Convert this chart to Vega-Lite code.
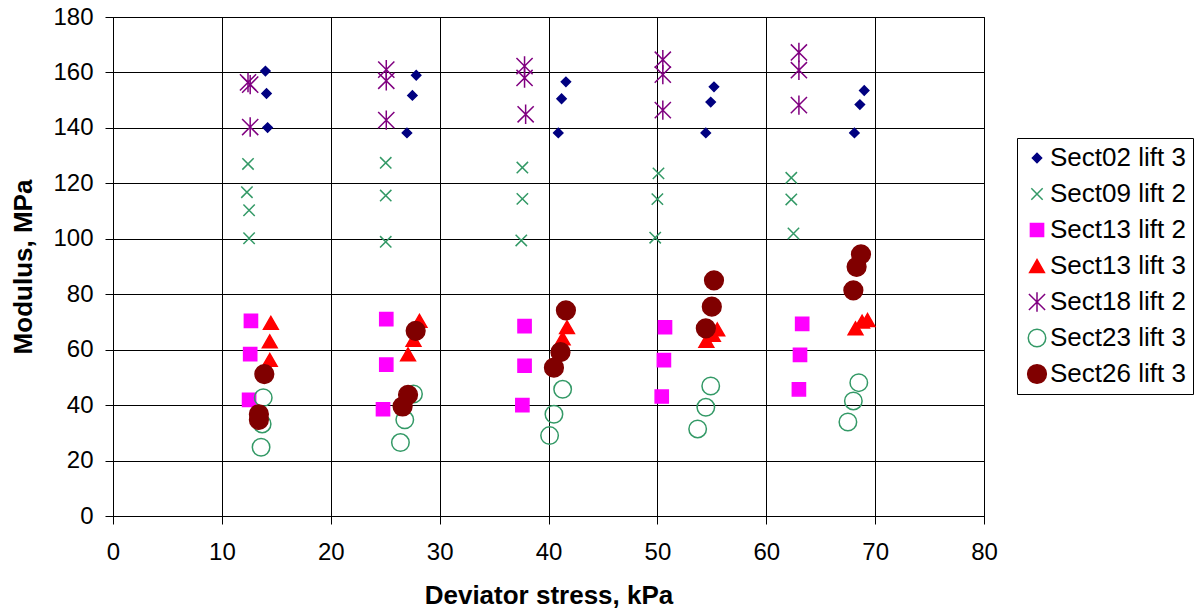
{
  "$schema": "https://vega.github.io/schema/vega-lite/v6.json",
  "width": 871,
  "height": 499,
  "autosize": "none",
  "padding": {"left": 113, "top": 17, "right": 211, "bottom": 100},
  "background": "white",
  "config": {
    "font": "Liberation Sans",
    "view": {"stroke": "black", "strokeWidth": 1},
    "axis": {
      "domainColor": "black", "gridColor": "black", "gridOpacity": 1, "gridWidth": 1,
      "tickColor": "black", "tickSize": 8, "tickWidth": 1, "labelFlush": false,
      "labelColor": "black", "labelFont": "Liberation Sans", "labelFontSize": 24,
      "titleColor": "black", "titleFont": "Liberation Sans", "titleFontSize": 26, "titleFontWeight": "bold"
    },
    "legend": {
      "orient": "none", "legendX": 904, "legendY": 121,
      "strokeColor": "black", "fillColor": "white", "padding": 7,
      "labelFont": "Liberation Sans", "labelFontSize": 26, "labelColor": "black",
      "rowPadding": 10, "labelOffset": 0, "symbolStrokeWidth": 1.5
    }
  },
  "data": {"values": [
    {"series": "Sect02 lift 3", "stress": 14.0, "modulus": 160.5},
    {"series": "Sect02 lift 3", "stress": 14.1, "modulus": 152.4},
    {"series": "Sect02 lift 3", "stress": 14.2, "modulus": 140.1},
    {"series": "Sect02 lift 3", "stress": 27.85, "modulus": 159.0},
    {"series": "Sect02 lift 3", "stress": 27.5, "modulus": 151.7},
    {"series": "Sect02 lift 3", "stress": 27.0, "modulus": 138.2},
    {"series": "Sect02 lift 3", "stress": 41.6, "modulus": 156.6},
    {"series": "Sect02 lift 3", "stress": 41.2, "modulus": 150.5},
    {"series": "Sect02 lift 3", "stress": 40.9, "modulus": 138.2},
    {"series": "Sect02 lift 3", "stress": 55.2, "modulus": 154.8},
    {"series": "Sect02 lift 3", "stress": 54.9, "modulus": 149.3},
    {"series": "Sect02 lift 3", "stress": 54.45, "modulus": 138.2},
    {"series": "Sect02 lift 3", "stress": 69.0, "modulus": 153.5},
    {"series": "Sect02 lift 3", "stress": 68.6, "modulus": 148.4},
    {"series": "Sect02 lift 3", "stress": 68.1, "modulus": 138.2},
    {"series": "Sect09 lift 2", "stress": 12.4, "modulus": 127.0},
    {"series": "Sect09 lift 2", "stress": 12.3, "modulus": 116.8},
    {"series": "Sect09 lift 2", "stress": 12.5, "modulus": 110.3},
    {"series": "Sect09 lift 2", "stress": 12.5, "modulus": 100.2},
    {"series": "Sect09 lift 2", "stress": 25.05, "modulus": 127.4},
    {"series": "Sect09 lift 2", "stress": 25.05, "modulus": 115.6},
    {"series": "Sect09 lift 2", "stress": 25.05, "modulus": 98.9},
    {"series": "Sect09 lift 2", "stress": 37.6, "modulus": 125.7},
    {"series": "Sect09 lift 2", "stress": 37.6, "modulus": 114.4},
    {"series": "Sect09 lift 2", "stress": 37.5, "modulus": 99.4},
    {"series": "Sect09 lift 2", "stress": 50.1, "modulus": 123.6},
    {"series": "Sect09 lift 2", "stress": 50.0, "modulus": 114.3},
    {"series": "Sect09 lift 2", "stress": 49.8, "modulus": 100.4},
    {"series": "Sect09 lift 2", "stress": 62.3, "modulus": 122.0},
    {"series": "Sect09 lift 2", "stress": 62.3, "modulus": 114.2},
    {"series": "Sect09 lift 2", "stress": 62.5, "modulus": 101.9},
    {"series": "Sect13 lift 2", "stress": 12.67, "modulus": 70.4},
    {"series": "Sect13 lift 2", "stress": 12.6, "modulus": 58.4},
    {"series": "Sect13 lift 2", "stress": 12.5, "modulus": 41.9},
    {"series": "Sect13 lift 2", "stress": 25.1, "modulus": 71.0},
    {"series": "Sect13 lift 2", "stress": 25.1, "modulus": 54.6},
    {"series": "Sect13 lift 2", "stress": 24.8, "modulus": 38.5},
    {"series": "Sect13 lift 2", "stress": 37.8, "modulus": 68.5},
    {"series": "Sect13 lift 2", "stress": 37.8, "modulus": 54.2},
    {"series": "Sect13 lift 2", "stress": 37.6, "modulus": 40.0},
    {"series": "Sect13 lift 2", "stress": 50.7, "modulus": 68.1},
    {"series": "Sect13 lift 2", "stress": 50.6, "modulus": 56.2},
    {"series": "Sect13 lift 2", "stress": 50.4, "modulus": 43.1},
    {"series": "Sect13 lift 2", "stress": 63.3, "modulus": 69.3},
    {"series": "Sect13 lift 2", "stress": 63.1, "modulus": 58.1},
    {"series": "Sect13 lift 2", "stress": 63.0, "modulus": 45.7},
    {"series": "Sect13 lift 3", "stress": 14.5, "modulus": 69.7},
    {"series": "Sect13 lift 3", "stress": 14.4, "modulus": 63.0},
    {"series": "Sect13 lift 3", "stress": 14.4, "modulus": 56.3},
    {"series": "Sect13 lift 3", "stress": 28.15, "modulus": 70.4},
    {"series": "Sect13 lift 3", "stress": 27.6, "modulus": 63.5},
    {"series": "Sect13 lift 3", "stress": 27.1, "modulus": 58.3},
    {"series": "Sect13 lift 3", "stress": 41.7, "modulus": 68.1},
    {"series": "Sect13 lift 3", "stress": 41.3, "modulus": 64.1},
    {"series": "Sect13 lift 3", "stress": 55.5, "modulus": 67.3},
    {"series": "Sect13 lift 3", "stress": 55.1, "modulus": 65.3},
    {"series": "Sect13 lift 3", "stress": 54.5, "modulus": 63.2},
    {"series": "Sect13 lift 3", "stress": 69.3, "modulus": 70.7},
    {"series": "Sect13 lift 3", "stress": 68.8, "modulus": 70.1},
    {"series": "Sect13 lift 3", "stress": 68.2, "modulus": 67.7},
    {"series": "Sect18 lift 2", "stress": 12.4, "modulus": 156.4},
    {"series": "Sect18 lift 2", "stress": 12.6, "modulus": 155.6},
    {"series": "Sect18 lift 2", "stress": 12.6, "modulus": 140.3},
    {"series": "Sect18 lift 2", "stress": 25.1, "modulus": 161.0},
    {"series": "Sect18 lift 2", "stress": 25.1, "modulus": 157.0},
    {"series": "Sect18 lift 2", "stress": 25.1, "modulus": 142.8},
    {"series": "Sect18 lift 2", "stress": 37.8, "modulus": 162.3},
    {"series": "Sect18 lift 2", "stress": 37.8, "modulus": 158.0},
    {"series": "Sect18 lift 2", "stress": 37.9, "modulus": 144.9},
    {"series": "Sect18 lift 2", "stress": 50.5, "modulus": 164.6},
    {"series": "Sect18 lift 2", "stress": 50.5, "modulus": 159.2},
    {"series": "Sect18 lift 2", "stress": 50.5, "modulus": 146.4},
    {"series": "Sect18 lift 2", "stress": 63.0, "modulus": 167.2},
    {"series": "Sect18 lift 2", "stress": 63.0, "modulus": 160.8},
    {"series": "Sect18 lift 2", "stress": 63.0, "modulus": 148.2},
    {"series": "Sect23 lift 3", "stress": 13.8, "modulus": 42.7},
    {"series": "Sect23 lift 3", "stress": 13.7, "modulus": 33.2},
    {"series": "Sect23 lift 3", "stress": 13.6, "modulus": 24.8},
    {"series": "Sect23 lift 3", "stress": 27.6, "modulus": 44.0},
    {"series": "Sect23 lift 3", "stress": 26.8, "modulus": 34.7},
    {"series": "Sect23 lift 3", "stress": 26.4, "modulus": 26.5},
    {"series": "Sect23 lift 3", "stress": 41.3, "modulus": 45.7},
    {"series": "Sect23 lift 3", "stress": 40.5, "modulus": 36.7},
    {"series": "Sect23 lift 3", "stress": 40.1, "modulus": 29.0},
    {"series": "Sect23 lift 3", "stress": 54.9, "modulus": 46.9},
    {"series": "Sect23 lift 3", "stress": 54.45, "modulus": 39.2},
    {"series": "Sect23 lift 3", "stress": 53.7, "modulus": 31.4},
    {"series": "Sect23 lift 3", "stress": 68.5, "modulus": 48.1},
    {"series": "Sect23 lift 3", "stress": 68.0, "modulus": 41.5},
    {"series": "Sect23 lift 3", "stress": 67.5, "modulus": 33.9},
    {"series": "Sect26 lift 3", "stress": 13.9, "modulus": 51.2},
    {"series": "Sect26 lift 3", "stress": 13.4, "modulus": 36.7},
    {"series": "Sect26 lift 3", "stress": 13.4, "modulus": 34.7},
    {"series": "Sect26 lift 3", "stress": 27.8, "modulus": 66.8},
    {"series": "Sect26 lift 3", "stress": 27.1, "modulus": 43.7},
    {"series": "Sect26 lift 3", "stress": 26.6, "modulus": 39.5},
    {"series": "Sect26 lift 3", "stress": 41.6, "modulus": 74.2},
    {"series": "Sect26 lift 3", "stress": 41.1, "modulus": 59.1},
    {"series": "Sect26 lift 3", "stress": 40.5, "modulus": 53.5},
    {"series": "Sect26 lift 3", "stress": 55.2, "modulus": 85.0},
    {"series": "Sect26 lift 3", "stress": 55.0, "modulus": 75.5},
    {"series": "Sect26 lift 3", "stress": 54.45, "modulus": 67.7},
    {"series": "Sect26 lift 3", "stress": 68.7, "modulus": 94.4},
    {"series": "Sect26 lift 3", "stress": 68.3, "modulus": 89.9},
    {"series": "Sect26 lift 3", "stress": 68.0, "modulus": 81.4}
  ]},
  "mark": {"type": "point", "strokeWidth": 1.5, "opacity": 1},
  "encoding": {
    "x": {
      "field": "stress", "type": "quantitative",
      "scale": {"domain": [0, 80], "nice": false, "zero": false},
      "axis": {"values": [0, 10, 20, 30, 40, 50, 60, 70, 80], "title": "Deviator stress, kPa", "labelPadding": 16, "titlePadding": 18}
    },
    "y": {
      "field": "modulus", "type": "quantitative",
      "scale": {"domain": [0, 180], "nice": false},
      "axis": {"values": [0, 20, 40, 60, 80, 100, 120, 140, 160, 180], "title": "Modulus, MPa", "labelPadding": 12, "titlePadding": 16}
    },
    "shape": {
      "field": "series", "type": "nominal", "title": null,
      "scale": {
        "domain": ["Sect02 lift 3", "Sect09 lift 2", "Sect13 lift 2", "Sect13 lift 3", "Sect18 lift 2", "Sect23 lift 3", "Sect26 lift 3"],
        "range": ["diamond", "M-1,-1L1,1M-1,1L1,-1", "square", "triangle-up", "M-1,-1L1,1M-1,1L1,-1M0,-1.2L0,1.2", "circle", "circle"]
      }
    },
    "stroke": {
      "field": "series", "type": "nominal", "title": null,
      "scale": {
        "domain": ["Sect02 lift 3", "Sect09 lift 2", "Sect13 lift 2", "Sect13 lift 3", "Sect18 lift 2", "Sect23 lift 3", "Sect26 lift 3"],
        "range": ["#000080", "#339966", "#FF00FF", "#FF0000", "#800080", "#339966", "#800000"]
      }
    },
    "fill": {
      "field": "series", "type": "nominal", "title": null,
      "scale": {
        "domain": ["Sect02 lift 3", "Sect09 lift 2", "Sect13 lift 2", "Sect13 lift 3", "Sect18 lift 2", "Sect23 lift 3", "Sect26 lift 3"],
        "range": ["#000080", "transparent", "#FF00FF", "#FF0000", "transparent", "transparent", "#800000"]
      }
    },
    "size": {
      "field": "series", "type": "nominal", "title": null,
      "scale": {
        "domain": ["Sect02 lift 3", "Sect09 lift 2", "Sect13 lift 2", "Sect13 lift 3", "Sect18 lift 2", "Sect23 lift 3", "Sect26 lift 3"],
        "range": [85, 350, 75, 95, 300, 125, 155]
      }
    }
  }
}
